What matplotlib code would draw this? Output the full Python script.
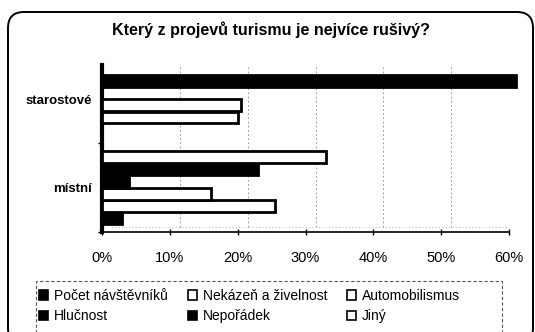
import matplotlib
matplotlib.use("Agg")
import matplotlib.pyplot as plt
import matplotlib.transforms as mtransforms
from matplotlib.patches import FancyBboxPatch, Rectangle, Patch
import numpy as np

# --- data -------------------------------------------------------------
categories = ["místní", "starostové"]
series = ["Počet návštěvníků", "Nekázeň a živelnost", "Automobilismus",
          "Hlučnost", "Nepořádek", "Jiný"]
mistni = [3, 25.5, 16, 4, 23, 33]
starostove = [0, 20, 20.5, 0, 61, 0]
fills = ["black", "white", "white", "black", "black", "white"]
xticks = [0, 10, 20, 30, 40, 50, 60]
xtick_labels = ["0%", "10%", "20%", "30%", "40%", "50%", "60%"]
title = "Který z projevů turismu je nejvíce rušivý?"

plt.rcParams['font.family'] = ['Liberation Sans', 'DejaVu Sans']

W, H = 535, 332
fig = plt.figure(figsize=(W / 100, H / 100), dpi=100)
inch = fig.dpi_scale_trans

# rounded outer frame (runs off the bottom edge)
frame = FancyBboxPatch((8 / 100, -12 / 100), 525 / 100, (H - 12 + 12) / 100,
                       boxstyle="round,pad=0,rounding_size=0.16",
                       transform=inch, facecolor="white",
                       edgecolor="black", linewidth=1.4, zorder=-10)
fig.patches.append(frame)

ax = fig.add_axes([102 / W, 100 / H, 407 / W, 167 / H])
ax.set_facecolor("none")

ypos = np.arange(len(categories))
slot = 0.138
bar_h = 0.134
values = [[mistni[i], starostove[i]] for i in range(len(series))]

for i, name in enumerate(series):
    off = (i - (len(series) - 1) / 2) * slot
    ax.barh(ypos + off, values[i], height=bar_h, color=fills[i],
            edgecolor="black", linewidth=2.0, clip_on=False, zorder=3,
            label=name)

ax.set_xlim(0, 60)
ax.set_ylim(-0.41, 1.386)

# back-wall gridlines, set back a little as on a 3-D wall
shift = mtransforms.ScaledTranslation(10 / 100, 0, inch)
for t in xticks[1:]:
    ax.plot([t, t], [0.03, 1.0], transform=ax.get_xaxis_transform() + shift,
            color="#888888", linewidth=0.6, linestyle=(0, (2, 3)), zorder=1)
# floor edge of the wall
ax.plot([0, 60], [0.03, 0.03], transform=ax.get_xaxis_transform() + shift,
        color="#999999", linewidth=0.6, linestyle=(0, (1, 3)), zorder=1)

ax.set_xticks(xticks)
ax.set_xticklabels(xtick_labels, fontsize=10.5)
ax.tick_params(axis="x", direction="inout", length=5, width=1, pad=11)
ax.set_yticks(ypos)
ax.set_yticklabels(categories, fontsize=9.5, fontweight="bold")
ax.tick_params(axis="y", length=0, pad=7)
ax.set_yticks([-0.5, 0.5], minor=True)
ax.tick_params(axis="y", which="minor", length=3, width=1)

for s in ("top", "right"):
    ax.spines[s].set_visible(False)
ax.spines["bottom"].set_linewidth(1.2)
ax.spines["left"].set_linewidth(3)

fig.text(271 / W, 1 - 30 / H, title, ha="center", va="center",
         fontsize=11.5, fontweight="bold")

# dashed legend box (runs off the bottom edge)
fig.patches.append(Rectangle((36 / 100, -10 / 100), (502 - 36) / 100,
                             (H - 281 + 10) / 100, transform=inch,
                             facecolor="none", edgecolor="#555555",
                             linewidth=0.8, linestyle=(0, (3, 2))))

# legend laid out row by row (3 columns)
handles = [Patch(facecolor=fills[i], edgecolor="black", linewidth=1.2)
           for i in range(len(series))]
order = [0, 3, 1, 4, 2, 5]
leg = fig.legend([handles[i] for i in order], [series[i] for i in order],
                 loc="upper left", bbox_to_anchor=(39 / W, 1 - 289 / H),
                 ncol=3, fontsize=10, frameon=False,
                 handlelength=0.65, handleheight=0.65, handletextpad=0.45,
                 columnspacing=1.4, borderpad=0, labelspacing=0.45,
                 borderaxespad=0)

fig.savefig("out.png", dpi=100)
